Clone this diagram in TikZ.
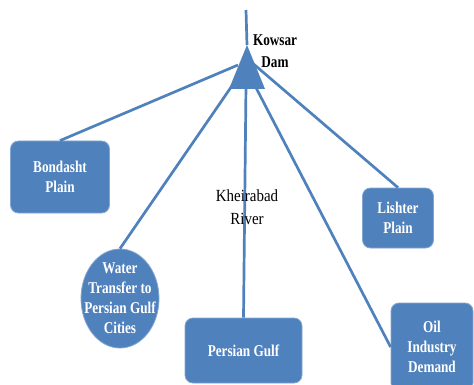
\documentclass[tikz,border=0pt]{standalone}
\usepackage{fontspec}
\setmainfont{Liberation Serif}
\newfontfamily\cond[FakeStretch=0.8]{Liberation Serif}
\newfontfamily\condb[FakeStretch=0.88]{Liberation Serif}
\usetikzlibrary{shapes.geometric}
\definecolor{ofblue}{HTML}{4F81BD}
\begin{document}
\begin{tikzpicture}[x=1pt,y=-1pt,
  link/.style={draw=ofblue,line width=2.7pt},
  boxnode/.style={rectangle,rounded corners=8pt,fill=ofblue,draw=ofblue!70!white,
    line width=0.8pt,text=white,font=\cond\bfseries\fontsize{16.5}{20}\selectfont,
    align=center,inner sep=0pt},
  ovalnode/.style={ellipse,fill=ofblue,draw=ofblue!70!white,line width=0.8pt,inner sep=0pt},
  ovaltext/.style={text=white,font=\cond\bfseries\fontsize{16.5}{20}\selectfont,align=center,inner sep=0pt},
  plainlabel/.style={font=\condb\fontsize{17}{23}\selectfont,align=center,inner sep=0pt},
  damlabel/.style={font=\cond\bfseries\fontsize{16.5}{22}\selectfont,align=center,inner sep=0pt}]
\useasboundingbox (0,0) rectangle (474,385);
% source and dam
\coordinate (src) at (246,10);
\coordinate (apex) at (247,45);
\coordinate (bl) at (229,89);
\coordinate (br) at (265,89);
\coordinate (sB) at (238,65);
\coordinate (sL) at (250,61);
\coordinate (sW) at (236,80);
\coordinate (sO) at (252,80);
\coordinate (sP) at (246,85);
% nodes
\node[boxnode,minimum width=99pt,minimum height=72pt] (bond) at (60,177) {Bondasht\\Plain};
\node[boxnode,minimum width=71pt,minimum height=60pt] (lish) at (398,218) {Lishter\\Plain};
\node[boxnode,minimum width=117pt,minimum height=65pt] (pg) at (243.5,350.5) {Persian Gulf};
\node[boxnode,minimum width=82pt,minimum height=88pt] (oil) at (432,347) {Oil\\Industry\\Demand};
\node[ovalnode,minimum width=78pt,minimum height=99pt] (wt) at (120,298.5) {};
\node[ovaltext] (wttext) at (wt.center) {Water\\Transfer to\\Persian Gulf\\Cities};
% connectors
\draw[link] (src) -- (apex);
\draw[link] (sB) -- (bond.north);
\draw[link] (sL) -- (lish.north);
\draw[link] (sW) -- (wt.north);
\draw[link] (sO) -- (oil.west);
\draw[link] (sP) -- (pg.north);
\fill[ofblue] (apex) -- (br) -- (bl) -- cycle;
% labels
\node[damlabel] (dam) at (275,51) {Kowsar\\Dam};
\node[plainlabel] (river) at (247,207) {Kheirabad\\River};
\end{tikzpicture}
\end{document}
